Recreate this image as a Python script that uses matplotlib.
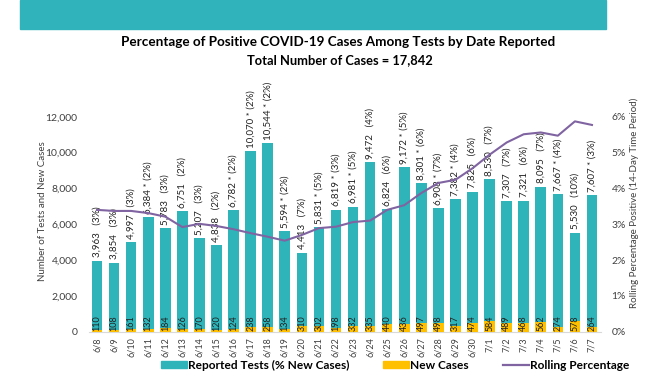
import matplotlib
matplotlib.use("Agg")
import matplotlib.pyplot as plt
from matplotlib.patches import Patch, Rectangle
from matplotlib.lines import Line2D
from matplotlib.ticker import FuncFormatter

plt.rcParams["font.family"] = ["Lato", "DejaVu Sans"]

dates = ["6/8", "6/9", "6/10", "6/11", "6/12", "6/13", "6/14", "6/15", "6/16", "6/17",
         "6/18", "6/19", "6/20", "6/21", "6/22", "6/23", "6/24", "6/25", "6/26", "6/27",
         "6/28", "6/29", "6/30", "7/1", "7/2", "7/3", "7/4", "7/5", "7/6", "7/7"]
tests = [3963, 3854, 4997, 6384, 5783, 6751, 5207, 4838, 6782, 10070,
         10544, 5594, 4413, 5831, 6819, 6981, 9472, 6824, 9172, 8301,
         6908, 7382, 7825, 8530, 7307, 7321, 8095, 7667, 5530, 7607]
new_cases = [110, 108, 161, 132, 184, 126, 170, 120, 124, 238,
             258, 134, 310, 302, 198, 332, 335, 440, 436, 497,
             498, 317, 474, 584, 489, 468, 562, 274, 578, 264]
pct_new = [3, 3, 3, 2, 3, 2, 3, 2, 2, 2,
           2, 2, 7, 5, 3, 5, 4, 6, 5, 6,
           7, 4, 6, 7, 7, 6, 7, 4, 10, 3]
starred = [0, 0, 0, 1, 0, 0, 0, 0, 1, 1,
           1, 1, 0, 1, 1, 1, 0, 0, 1, 1,
           1, 1, 0, 0, 0, 0, 0, 1, 0, 1]
rolling = [3.40, 3.37, 3.37, 3.31, 3.21, 2.92, 3.01, 2.95, 2.86, 2.75,
           2.65, 2.54, 2.70, 2.89, 2.93, 3.06, 3.10, 3.40, 3.53, 3.87,
           4.15, 4.24, 4.56, 4.94, 5.28, 5.51, 5.56, 5.47, 5.87, 5.77]

TEAL = "#2eb4b9"
GOLD = "#ffc000"
PURPLE = "#8064a2"
TXT = "#404040"

fig = plt.figure(figsize=(6.72, 3.72), dpi=100)

# шапка сверху (обрезанный баннер)
fig.patches.append(Rectangle((20 / 672, 1 - 29 / 372), 586 / 672, 29 / 372,
                             transform=fig.transFigure, color="#31b3bb", zorder=0))

ax = fig.add_axes([88.5 / 672, 40.3 / 372, 512 / 672, 215 / 372])
x = range(len(dates))
ax.bar(x, tests, width=0.62, color=TEAL, zorder=2)
ax.bar(x, new_cases, width=0.62, color=GOLD, zorder=3)

for i in x:
    star = "*" if starred[i] else " "
    ax.text(i, tests[i] + 180, f"{tests[i]:,} {star} ({pct_new[i]}%)", rotation=90,
            ha="center", va="bottom", fontsize=7, color="#222222")
    ax.text(i, 30, f"{new_cases[i]}", rotation=90, ha="center", va="bottom",
            fontsize=6.5, color="#222222", zorder=4)

ax.set_xlim(-0.5, len(dates) - 0.5)
ax.set_ylim(0, 12000)
ax.set_yticks(range(0, 12001, 2000))
ax.yaxis.set_major_formatter(FuncFormatter(lambda v, p: f"{int(v):,}"))
ax.set_xticks(list(x))
ax.set_xticklabels(dates, rotation=90, fontsize=6.5, color=TXT)
ax.tick_params(axis="y", length=0, pad=8, labelsize=7.5, labelcolor=TXT)
ax.tick_params(axis="x", length=0, pad=4)
for s in ["top", "right", "left"]:
    ax.spines[s].set_visible(False)
ax.spines["bottom"].set_color("#d9d9d9")

ax2 = ax.twinx()
ax2.plot(list(x), rolling, color=PURPLE, linewidth=1.5, zorder=5)
ax2.set_ylim(0, 6)
ax2.set_yticks(range(0, 7))
ax2.yaxis.set_major_formatter(FuncFormatter(lambda v, p: f"{int(v)}%"))
ax2.tick_params(axis="y", length=0, pad=8, labelsize=7.5, labelcolor=TXT)
for s in ["top", "right", "left", "bottom"]:
    ax2.spines[s].set_visible(False)

fig.text(43 / 672, 1 - 211 / 372, "Number of Tests and New Cases", rotation=90,
         ha="center", va="center", fontsize=7, color=TXT)
fig.text(634 / 672, 1 - 203 / 372, "Rolling Percentage Positive (14-Day Time Period)",
         rotation=90, ha="center", va="center", fontsize=7, color=TXT)

fig.text(338 / 672, 1 - 42 / 372,
         "Percentage of Positive COVID-19 Cases Among Tests by Date Reported",
         ha="center", va="center", fontsize=9.7, fontweight="bold", color="#000000")
fig.text(340 / 672, 1 - 60 / 372, "Total Number of Cases = 17,842",
         ha="center", va="center", fontsize=9.3, fontweight="bold", color="#000000")

handles = [Patch(color=TEAL), Patch(color=GOLD), Line2D([0], [0], color=PURPLE, lw=1.6)]
labels = ["Reported Tests (% New Cases)", "New Cases", "Rolling Percentage"]
fig.legend(handles, labels, loc="center", bbox_to_anchor=(395 / 672, 1 - 365 / 372),
           ncol=3, frameon=False, handlelength=2.2, handleheight=0.6,
           handletextpad=0.1, columnspacing=2.8, prop={"weight": "bold", "size": 8.6})

fig.savefig("out.png", dpi=100)
